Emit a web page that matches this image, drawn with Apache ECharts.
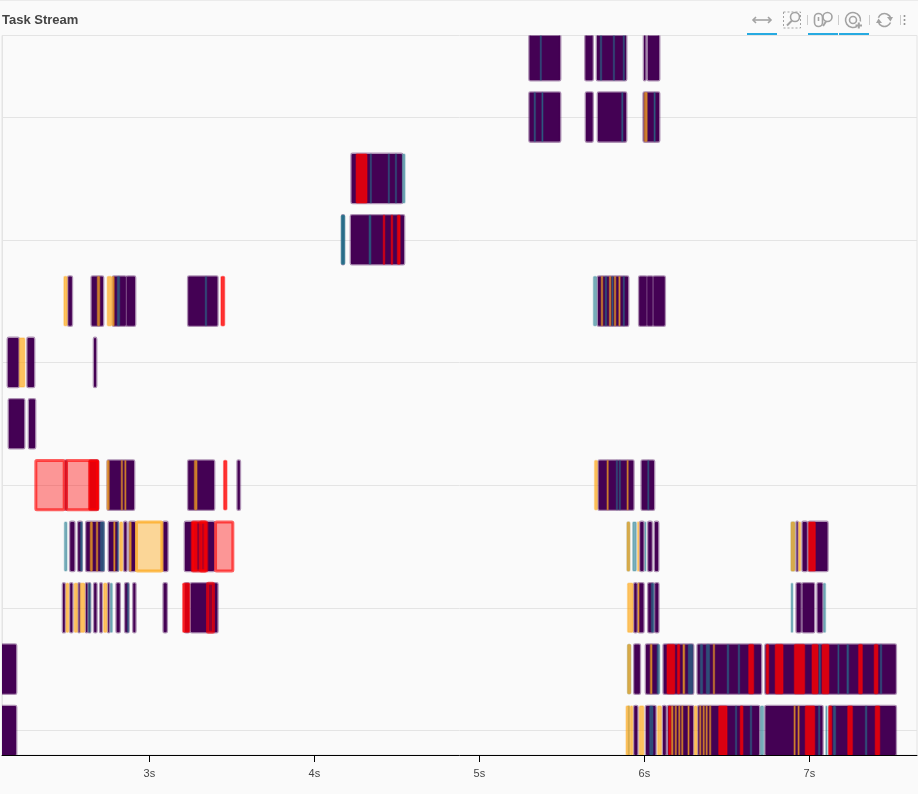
<![CDATA[<html>
<head>
<meta charset="UTF-8">
<script src="https://cdn.jsdelivr.net/npm/echarts@6/dist/echarts.min.js"></script>
<style>
    html, body {margin: 0; padding: 0; background: #fafafa;}
    #taskStream {width: 918px; height: 794px;}
</style>
</head>
<body>
<div id="taskStream"></div>
<script>
    // every task is [worker row, start seconds, end seconds]
    var tickSeconds = [3, 4, 5, 6, 7];
    var workerGridRows = [0, 2, 4, 6, 8, 10];

    var purpleTasks = [
        [11,5.298,5.495],[11,5.637,5.692],[11,5.707,5.895],[11,5.992,6.012],[11,6.015,6.095],
        [10,5.298,5.495],[10,5.640,5.692],[10,5.713,5.895],[10,5.990,6.095],
        [9,4.220,4.537],
        [8,4.216,4.549],[8,4.163,4.184],
        [7,2.503,2.536],[7,2.645,2.725],[7,2.774,2.863],[7,2.858,2.919],[7,3.230,3.418],[7,5.713,5.907],
        [7,5.963,6.018],[7,6.012,6.055],[7,6.050,6.129],
        [6,2.137,2.213],[6,2.256,2.307],[6,2.659,2.683],
        [5,2.143,2.247],[5,2.265,2.313],
        [4,2.486,2.498],[4,2.634,2.695],[4,2.742,2.913],[4,3.230,3.398],[4,3.529,3.554],[4,5.717,5.939],[4,5.978,6.064],
        [3,2.515,2.551],[3,2.563,2.596],[3,2.612,2.729],[3,2.749,2.816],[3,2.842,2.867],[3,2.874,2.919],
        [3,3.079,3.115],[3,3.210,3.398],[3,5.969,6.000],[3,6.018,6.050],[3,6.058,6.089],
        [3,6.917,6.933],[3,6.953,6.990],[3,6.991,7.115],
        [2,2.471,2.493],[2,2.515,2.539],[2,2.566,2.580],[2,2.610,2.630],[2,2.628,2.646],[2,2.660,2.685],
        [2,2.697,2.717],[2,2.745,2.759],[2,2.796,2.826],[2,2.848,2.879],[2,2.897,2.921],[2,3.081,3.111],
        [2,3.210,3.246],[2,3.246,3.418],[2,5.933,5.959],[2,5.959,6.000],[2,6.018,6.060],[2,6.060,6.090],
        [2,6.917,6.953],[2,6.953,7.034],[2,7.044,7.084],
        [1,2.050,2.198],[1,5.933,5.978],[1,6.004,6.090],[1,6.111,6.301],[1,6.317,6.713],[1,6.728,7.529],
        [0,2.050,2.198],[0,5.933,5.963],[0,6.004,6.073],[0,6.107,6.135],[0,6.137,6.301],[0,6.321,6.701],
        [0,6.728,7.085],[0,7.115,7.529]
    ];
    var tealTasks = [
        [11,5.367,5.378],[11,5.731,5.743],[11,5.810,5.820],[11,5.870,5.880],
        [10,5.330,5.342],[10,5.376,5.388],[10,5.860,5.872],[10,6.056,6.068],
        [9,4.337,4.347],[9,4.446,4.456],[9,4.489,4.497],[9,4.531,4.552],
        [8,4.161,4.186],[8,4.162,4.185],[8,4.329,4.345],
        [7,2.804,2.822],[7,3.337,3.349],[7,5.689,5.713],[7,5.761,5.773],[7,5.801,5.810],[7,5.870,5.876],
        [4,5.828,5.837],[4,5.846,5.852],[4,6.018,6.028],
        [3,2.483,2.503],[3,2.580,2.596],[3,2.701,2.729],[3,2.804,2.810],[3,5.893,5.913],[3,5.927,5.953],
        [3,6.001,6.010],[3,6.887,6.913],
        [2,2.628,2.646],[2,2.762,2.778],[2,2.865,2.877],[2,6.040,6.060],[2,6.887,6.902],[2,7.084,7.100],
        [1,5.896,5.919],[1,6.075,6.095],[1,6.264,6.295],[1,6.337,6.355],[1,6.373,6.397],[1,6.500,6.513],
        [1,6.567,6.579],[1,7.055,7.070],[1,7.170,7.180],[1,7.225,7.240],[1,7.428,7.440],
        [0,5.900,5.910],[0,6.030,6.054],[0,6.550,6.560],[0,6.640,6.652],[0,6.701,6.725],[0,7.053,7.065],
        [0,7.097,7.110],[0,7.143,7.161],[0,7.337,7.350]
    ];
    var orangeTasks = [
        [10,5.998,6.019],
        [7,2.480,2.504],[7,2.683,2.701],[7,2.743,2.774],[7,2.774,2.789],[7,5.737,5.749],[7,5.786,5.798],
        [7,5.816,5.828],[7,5.843,5.855],
        [6,2.210,2.247],
        [4,2.742,2.759],[4,2.828,2.839],[4,2.849,2.859],[4,3.271,3.291],[4,5.696,5.717],[4,5.772,5.782],[4,5.893,5.903],
        [3,2.640,2.657],[3,2.677,2.689],[3,2.782,2.794],[3,2.819,2.840],[3,2.877,2.892],[3,5.893,5.913],
        [3,5.957,5.967],[3,6.887,6.913],[3,6.933,6.949],
        [2,2.493,2.513],[2,2.543,2.566],[2,2.580,2.610],[2,2.721,2.745],[2,5.896,5.933],[2,5.959,5.967],
        [1,5.896,5.919],[1,6.034,6.048],[1,6.232,6.246],[1,6.416,6.422],
        [0,5.887,5.913],[0,5.913,5.931],[0,5.967,5.998],[0,6.078,6.105],[0,6.161,6.175],[0,6.185,6.193],
        [0,6.206,6.212],[0,6.224,6.232],[0,6.262,6.270],[0,6.301,6.321],[0,6.333,6.340],[0,6.354,6.360],
        [0,6.372,6.380],[0,6.393,6.401],[0,6.905,6.910],[0,6.929,6.935]
    ];
    var redTasks = [
        [9,4.251,4.321],
        [8,4.416,4.428],[8,4.464,4.476],[8,4.501,4.522],
        [7,3.432,3.458],
        [4,2.630,2.695],[4,3.448,3.472],
        [3,3.258,3.290],[3,6.993,7.038],
        [2,3.200,3.246],
        [1,6.135,6.186],[1,6.198,6.216],[1,6.630,6.664],[1,6.737,6.755],[1,6.791,6.842],[1,6.907,6.973],
        [1,7.014,7.054],[1,7.075,7.120],[1,7.296,7.323],[1,7.391,7.417],
        [0,6.145,6.161],[0,6.448,6.503],[0,6.579,6.599],[0,6.973,7.034],[0,7.115,7.137],[0,7.230,7.263],
        [0,7.397,7.428]
    ];
    var longRedTasks = [
        [4,2.303,2.493],[4,2.489,2.695],
        [3,3.251,3.357],[3,3.301,3.349],[3,3.392,3.515],
        [2,3.343,3.398]
    ];
    var longOrangeTasks = [
        [3,2.913,3.085]
    ];

    var myChart = null;

    function makeSeries(name, tasks, color, fillAlpha, lineAlpha, lineWidth, inset) {
        return {
            name: name,
            type: 'custom',
            clip: true,
            data: tasks,
            encode: {x: [1, 2], y: 0},
            renderItem: function (params, api) {
                var p0 = api.coord([api.value(1), api.value(0)]);
                var p1 = api.coord([api.value(2), api.value(0)]);
                var h = api.size([0, 0.8])[1];
                return {
                    type: 'rect',
                    shape: {
                        x: p0[0] + inset,
                        y: p0[1] - h / 2,
                        width: Math.max(p1[0] - p0[0] - inset * 2, 1),
                        height: h,
                        r: 1
                    },
                    style: {
                        fill: rgba(color, fillAlpha),
                        stroke: rgba(color, lineAlpha),
                        lineWidth: lineWidth
                    }
                };
            }
        };
    }

    function rgba(rgb, alpha) {
        return 'rgba(' + rgb + ',' + alpha + ')';
    }

    // toolbar icons, drawn by hand
    function toolbarIcons() {
        var gray = '#a3a3a3';
        var line = {stroke: gray, lineWidth: 1.6, fill: 'none'};
        var els = [];
        function add(type, shape, style) {
            els.push({type: type, shape: shape, style: style || line, silent: true});
        }
        // pan
        add('polyline', {points: [[753, 20], [771, 20]]});
        add('polyline', {points: [[756, 17], [753, 20], [756, 23]]});
        add('polyline', {points: [[768, 17], [771, 20], [768, 23]]});
        // box zoom
        add('rect', {x: 783.5, y: 12, width: 17, height: 16}, {stroke: gray, lineWidth: 1, fill: 'none', lineDash: [2, 2]});
        add('circle', {cx: 795, cy: 17, r: 4.5});
        add('line', {x1: 792, y1: 20.5, x2: 787, y2: 25.5}, {stroke: gray, lineWidth: 2});
        // wheel zoom
        add('rect', {x: 814.5, y: 13.5, width: 8, height: 13, r: 4});
        add('line', {x1: 818.5, y1: 17, x2: 818.5, y2: 21});
        add('circle', {cx: 827.5, cy: 17, r: 4.5});
        add('line', {x1: 826, y1: 21.5, x2: 823, y2: 26}, {stroke: gray, lineWidth: 2});
        // wheel zoom in
        add('arc', {cx: 853, cy: 20, r: 7.5, startAngle: 1.0, endAngle: 0.2});
        add('circle', {cx: 853, cy: 20, r: 3.5});
        add('line', {x1: 855.5, y1: 25.5, x2: 862, y2: 25.5}, {stroke: gray, lineWidth: 2});
        add('line', {x1: 858.8, y1: 22.5, x2: 858.8, y2: 28.5}, {stroke: gray, lineWidth: 2});
        // reset
        add('arc', {cx: 884.5, cy: 20, r: 6.5, startAngle: 3.5, endAngle: 6.1});
        add('arc', {cx: 884.5, cy: 20, r: 6.5, startAngle: 0.4, endAngle: 2.9});
        add('polygon', {points: [[887, 17], [893, 17], [890.5, 21.5]]}, {fill: gray});
        add('polygon', {points: [[876, 23], [882, 23], [878.5, 18.5]]}, {fill: gray});
        // separators
        [807.5, 838.5, 869.5, 900.5].forEach(function (x) {
            add('line', {x1: x, y1: 15, x2: x, y2: 25}, {stroke: '#cccccc', lineWidth: 1});
        });
        // more dots
        [16, 20, 24].forEach(function (y) {
            add('circle', {cx: 904.5, cy: y, r: 1}, {fill: '#8c8c8c'});
        });
        // active tool markers
        [[747, 30], [808, 30], [839, 30]].forEach(function (b) {
            add('rect', {x: b[0], y: 33, width: b[1], height: 2}, {fill: '#26aae1'});
        });
        // top edge of the panel
        add('rect', {x: 0, y: 0, width: 918, height: 1}, {fill: '#ebebeb'});
        return els;
    }

    function initChart() {
        myChart = echarts.init(document.getElementById('taskStream'), null, {renderer: 'canvas'});
        var option = {
            animation: false,
            backgroundColor: '#fafafa',
            title: {
                text: 'Task Stream',
                left: 2,
                top: 14,
                padding: 0,
                textStyle: {
                    color: '#444444',
                    fontFamily: 'Liberation Sans',
                    fontWeight: 'bold',
                    fontSize: 13
                }
            },
            grid: {
                left: 2,
                top: 35.5,
                width: 915,
                height: 719.5,
                show: true,
                borderColor: '#e4e4e4',
                borderWidth: 1,
                backgroundColor: 'transparent'
            },
            xAxis: {
                type: 'value',
                min: 2.107,
                max: 7.652,
                axisLine: {onZero: false, lineStyle: {color: '#000000', width: 1}},
                axisTick: {customValues: tickSeconds, length: 7, lineStyle: {color: '#000000', width: 1}},
                axisLabel: {
                    customValues: tickSeconds,
                    margin: 13,
                    color: '#444444',
                    fontFamily: 'Liberation Sans',
                    fontSize: 11,
                    formatter: '{value}s'
                },
                splitLine: {show: false}
            },
            yAxis: {
                type: 'value',
                min: -0.4,
                max: 11.33,
                axisLine: {show: true, onZero: false, lineStyle: {color: '#e4e4e4'}},
                axisTick: {show: false, customValues: workerGridRows},
                axisLabel: {show: false},
                splitLine: {show: true, lineStyle: {color: '#e4e4e4', width: 1}}
            },
            graphic: toolbarIcons(),
            series: [
                makeSeries('compute', purpleTasks, '68,1,84', 1, 0.42, 2.6, 0.9),
                makeSeries('deserialize', tealTasks, '35,125,145', 0.6, 0.25, 1.5, 0.4),
                makeSeries('disk-read', orangeTasks, '253,170,30', 0.7, 0.35, 1.5, 0.4),
                makeSeries('transfer', redTasks, '255,0,0', 0.8, 0.4, 1.5, 0.4),
                makeSeries('long transfer', longRedTasks, '255,0,0', 0.4, 0.62, 3, 1.5),
                makeSeries('long disk-read', longOrangeTasks, '253,170,30', 0.45, 0.75, 3, 1.5)
            ]
        };
        myChart.setOption(option);
    }

    initChart();
</script>
</body>
</html>
]]>
